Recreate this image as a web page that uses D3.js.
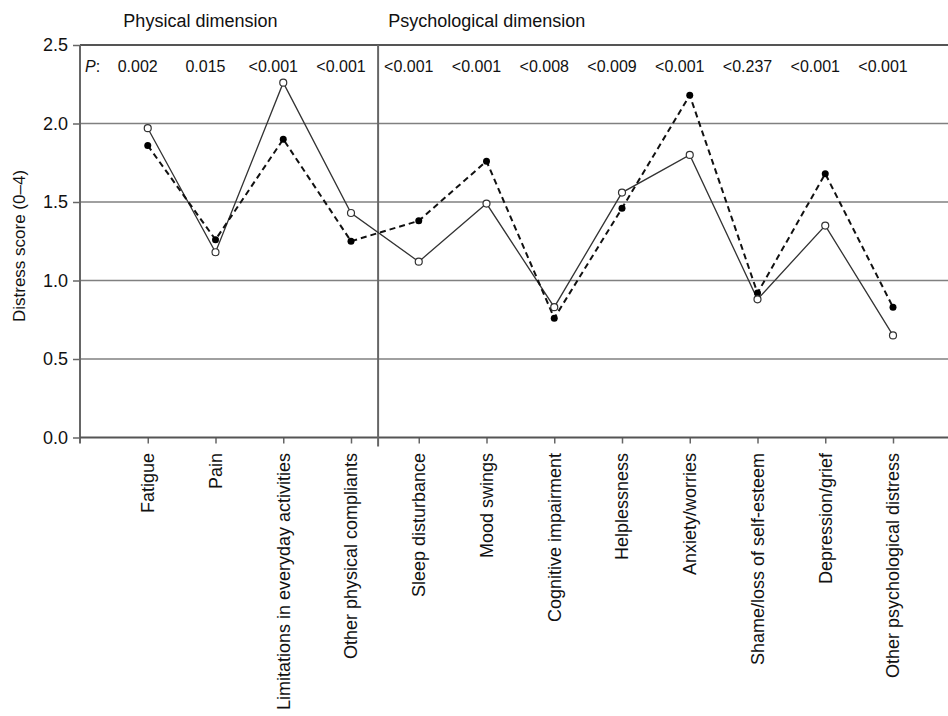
<!DOCTYPE html>
<html>
<head>
<meta charset="utf-8">
<script src="https://cdn.jsdelivr.net/npm/d3@7"></script>
<style>
  body { margin: 0; background: #fff; }
  svg { display: block; font-family: "Liberation Sans", Arial, sans-serif; }
</style>
</head>
<body>
<script>
// data
var categories = ["Fatigue", "Pain", "Limitations in everyday activities", "Other physical compliants",
    "Sleep disturbance", "Mood swings", "Cognitive impairment", "Helplessness", "Anxiety/worries",
    "Shame/loss of self-esteem", "Depression/grief", "Other psychological distress"];
var openSeries = [1.97, 1.18, 2.26, 1.43, 1.12, 1.49, 0.83, 1.56, 1.80, 0.88, 1.35, 0.65];
var filledSeries = [1.86, 1.26, 1.90, 1.25, 1.38, 1.76, 0.76, 1.46, 2.18, 0.92, 1.68, 0.83];
var pValues = ["0.002", "0.015", "<0.001", "<0.001", "<0.001", "<0.001", "<0.008", "<0.009",
    "<0.001", "<0.237", "<0.001", "<0.001"];
var yTicks = [0, 0.5, 1.0, 1.5, 2.0, 2.5];
var dimensions = [{label: "Physical dimension", pos: 0.64}, {label: "Psychological dimension", pos: 4.55}];

var W = 948, H = 716;
var LEFT = 80, STEP = 67.75;

var DATA = [];
for (var i = 0; i < categories.length; i++) {
    DATA.push({x: i + 1, a: openSeries[i], b: filledSeries[i]});
}

// scales
var xScale = d3.scaleLinear().domain([0, 13]).range([LEFT, LEFT + 13 * STEP]);
var yScale = d3.scaleLinear().domain([0, 2.5]).range([437.5, 45]);

var svg = d3.select("body").append("svg")
    .attr("width", W)
    .attr("height", H);

// grid lines
svg.append("g").selectAll("line")
    .data(yTicks.filter(function (d) { return d > 0 && d < 2.5; }))
    .enter().append("line")
    .attr("x1", LEFT).attr("x2", W)
    .attr("y1", function (d) { return yScale(d); })
    .attr("y2", function (d) { return yScale(d); })
    .attr("stroke", "#808080").attr("stroke-width", 1.5);

// top frame line
svg.append("line")
    .attr("x1", LEFT).attr("x2", W)
    .attr("y1", yScale(2.5)).attr("y2", yScale(2.5))
    .attr("stroke", "#555").attr("stroke-width", 2);

// y axis
var yAxis = svg.append("g")
    .attr("transform", "translate(" + LEFT + ",0)")
    .call(d3.axisLeft(yScale).tickValues(yTicks).tickFormat(d3.format(".1f")).tickSize(7).tickPadding(5));
yAxis.select(".domain").remove();
yAxis.selectAll("line").attr("stroke", "#666").attr("stroke-width", 1.5);
yAxis.selectAll("text").attr("font-size", 18).attr("fill", "#111").style("font-family", "inherit");

svg.append("line")
    .attr("x1", LEFT).attr("x2", LEFT)
    .attr("y1", yScale(2.5)).attr("y2", yScale(0) + 6)
    .attr("stroke", "#666").attr("stroke-width", 2);

// x axis
var xAxis = svg.append("g")
    .attr("transform", "translate(0," + yScale(0) + ")")
    .call(d3.axisBottom(xScale).tickValues(d3.range(1, 13)).tickSize(6).tickFormat(""));
xAxis.select(".domain").remove();
xAxis.selectAll("line").attr("stroke", "#666").attr("stroke-width", 1.5);

svg.append("line")
    .attr("x1", LEFT).attr("x2", W)
    .attr("y1", yScale(0)).attr("y2", yScale(0))
    .attr("stroke", "#555").attr("stroke-width", 2);

// category labels
svg.append("g").selectAll("text")
    .data(categories)
    .enter().append("text")
    .attr("transform", function (d, i) { return "translate(" + xScale(i + 1) + ",453) rotate(-90)"; })
    .attr("text-anchor", "end")
    .attr("dy", "0.35em")
    .attr("font-size", 18)
    .attr("fill", "#111")
    .text(function (d) { return d; });

// divider between dimensions
var divX = xScale(4.4);
svg.append("line")
    .attr("x1", divX).attr("x2", divX)
    .attr("y1", yScale(2.5)).attr("y2", yScale(0) + 9)
    .attr("stroke", "#666").attr("stroke-width", 2);

// dimension titles
svg.append("g").selectAll("text")
    .data(dimensions)
    .enter().append("text")
    .attr("x", function (d) { return xScale(d.pos); })
    .attr("y", 27)
    .attr("font-size", 18)
    .attr("fill", "#111")
    .text(function (d) { return d.label; });

svg.append("text")
    .attr("transform", "translate(25,246) rotate(-90)")
    .attr("text-anchor", "middle")
    .attr("font-size", 17)
    .attr("fill", "#111")
    .text("Distress score (0\u20134)");

// p values
var pText = svg.append("text").attr("x", 85).attr("y", 72).attr("font-size", 16).attr("fill", "#111");
pText.append("tspan").attr("font-style", "italic").text("P");
pText.append("tspan").text(":");

svg.append("g").selectAll("text")
    .data(pValues)
    .enter().append("text")
    .attr("x", function (d, i) { return xScale(i + 1) - 10; })
    .attr("y", 72)
    .attr("text-anchor", "middle")
    .attr("font-size", 16)
    .attr("fill", "#111")
    .text(function (d) { return d; });

// lines
var lineA = d3.line().x(function (d) { return xScale(d.x); }).y(function (d) { return yScale(d.a); });
var lineB = d3.line().x(function (d) { return xScale(d.x); }).y(function (d) { return yScale(d.b); });

svg.append("path").datum(DATA)
    .attr("d", lineA)
    .attr("fill", "none").attr("stroke", "#333").attr("stroke-width", 1.3);

svg.append("path").datum(DATA)
    .attr("d", lineB)
    .attr("fill", "none").attr("stroke", "#111").attr("stroke-width", 2)
    .attr("stroke-dasharray", "6,4");

svg.append("g").selectAll("circle")
    .data(DATA)
    .enter().append("circle")
    .attr("cx", function (d) { return xScale(d.x); })
    .attr("cy", function (d) { return yScale(d.b); })
    .attr("r", 3.5)
    .attr("fill", "#000");

svg.append("g").selectAll("circle")
    .data(DATA)
    .enter().append("circle")
    .attr("cx", function (d) { return xScale(d.x); })
    .attr("cy", function (d) { return yScale(d.a); })
    .attr("r", 3.5)
    .attr("fill", "#fff").attr("stroke", "#333").attr("stroke-width", 1.2);
</script>
</body>
</html>
